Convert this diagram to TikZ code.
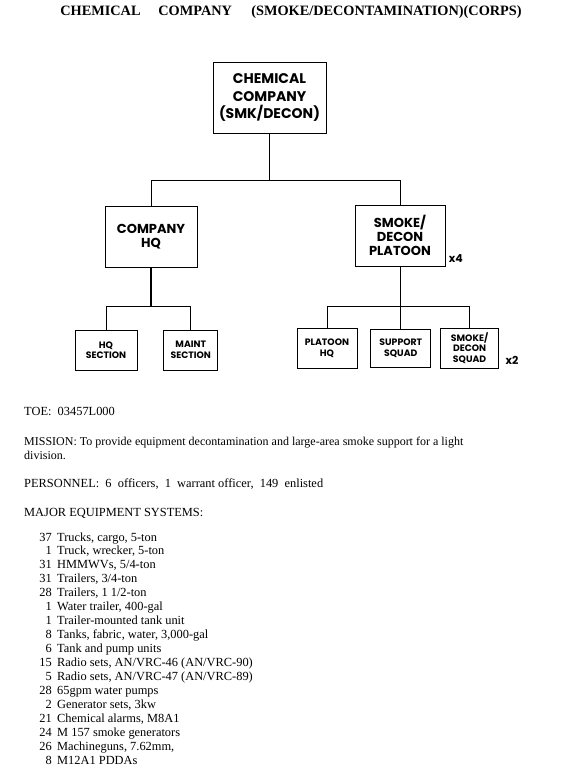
\documentclass[tikz,border=0pt]{standalone}
\usepackage{fontspec}
\setmainfont{Liberation Serif}
\newfontfamily\boxfont{Poppins}
\usetikzlibrary{positioning}

\tikzset{
  unit/.style={draw,line width=0.8pt,align=center,inner sep=0pt,font=\boxfont\bfseries},
  subunit/.style={unit,minimum width=60,minimum height=40,font=\boxfont\bfseries\fontsize{9.3}{10.5}\selectfont},
  link/.style={line width=0.8pt},
  mult/.style={font=\boxfont\bfseries\fontsize{11}{12}\selectfont},
  body/.style={anchor=base west,inner sep=0pt,font=\fontsize{12.4}{14}\selectfont}
}

\begin{document}
\begin{tikzpicture}[x=1pt,y=-1pt]
    \useasboundingbox[fill=white] (0,0) rectangle (572,777);
    \node[font=\bfseries\fontsize{14.3}{16}\selectfont] (title) at (291,12)
      {CHEMICAL\hspace{1.25em}COMPANY\hspace{1.35em}(SMOKE/DECONTAMINATION)(CORPS)};

    % chart
    \node[unit,minimum width=113,minimum height=71,font=\boxfont\bfseries\fontsize{14}{17.5}\selectfont] (co) at (269.5,97.5) {CHEMICAL\\COMPANY\\(SMK/DECON)};
    \node[unit,minimum width=92,minimum height=61,font=\boxfont\bfseries\fontsize{13}{14}\selectfont] (hq) at (151,236.5) {COMPANY\\HQ};
    \node[unit,minimum width=90,minimum height=61,font=\boxfont\bfseries\fontsize{13}{14}\selectfont] (plt) at (400,235.5) {SMOKE/\\DECON\\PLATOON};
    \node[mult,anchor=south west] (x4) at (plt.south east) {x4};

    \node[subunit,minimum width=62] (hqsec) at (106,350) {HQ\\SECTION};
    \node[subunit,minimum width=54] (maint) [right=26pt of hqsec] {MAINT\\SECTION};
    \node[subunit] (plthq) at (327,348) {PLATOON\\HQ};
    \node[subunit,minimum height=38] (sup) [right=13pt of plthq] {SUPPORT\\SQUAD};
    \node[subunit,minimum width=58] (sqd) [right=9pt of sup] {SMOKE/\\DECON\\SQUAD};
    \node[mult,anchor=south west,xshift=3pt] (x2) at (sqd.south east) {x2};

    \draw[link] (co.south) -- ++(0,47) coordinate (cosplit);
    \draw[link] (cosplit) -| (hq.north);
    \draw[link] (cosplit) -| (plt.north);
    \draw[line width=1.8pt] (hq.south) -- ++(0,39) coordinate (hqsplit);
    \draw[link] (hqsplit) -| (hqsec.north);
    \draw[link] (hqsplit) -| (maint.north);
    \draw[link] (plt.south) -- ++(0,40) coordinate (pltsplit);
    \draw[link] (pltsplit) -| (plthq.north);
    \draw[link] (pltsplit) -| (sup.north);
    \draw[link] (pltsplit) -| (sqd.north);

    % text
    \node[body] (toe) at (24,415) {TOE:\ \ 03457L000};
    \node[body,align=left,font=\fontsize{12}{14}\selectfont] (mission) at (24,459)
      {MISSION:\ To provide equipment decontamination and large-area smoke support for a light\\division.};
    \node[body] (pers) at (24,487) {PERSONNEL:\ \ 6\ \ officers,\ \ 1\ \ warrant\ officer,\ \ 149\ \ enlisted};
    \node[body] (major) at (24,516) {MAJOR EQUIPMENT SYSTEMS:};
    \foreach \num/\item [count=\i from 0] in {
        37/{Trucks, cargo, 5-ton},
        1/{Truck, wrecker, 5-ton},
        31/{HMMWVs, 5/4-ton},
        31/{Trailers, 3/4-ton},
        28/{Trailers, 1 1/2-ton},
        1/{Water trailer, 400-gal},
        1/{Trailer-mounted tank unit},
        8/{Tanks, fabric, water, 3,000-gal},
        6/{Tank and pump units},
        15/{Radio sets, AN/VRC-46 (AN/VRC-90)},
        5/{Radio sets, AN/VRC-47 (AN/VRC-89)},
        28/{65gpm water pumps},
        2/{Generator sets, 3kw},
        21/{Chemical alarms, M8A1},
        24/{M 157 smoke generators},
        26/{Machineguns, 7.62mm,},
        8/{M12A1 PDDAs}} {
      \node[body,anchor=base east] (n\i) at (52,541+13.94*\i) {\num};
      \node[body] (t\i) at (57,541+13.94*\i) {\item};
    }
\end{tikzpicture}
\end{document}
